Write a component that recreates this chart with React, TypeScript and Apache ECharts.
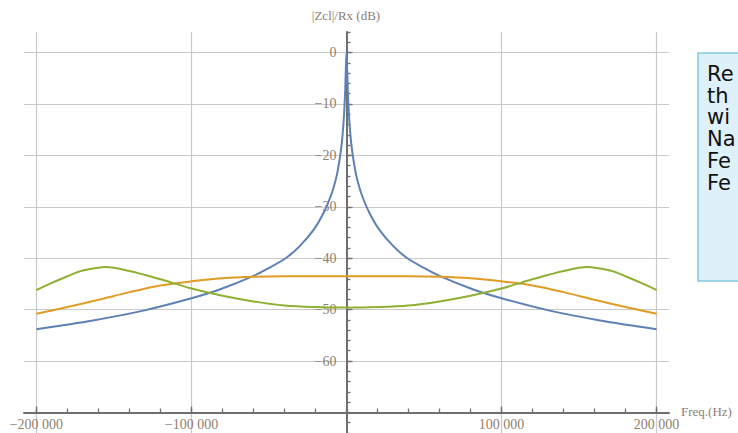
import React, { useEffect, useRef } from "react";
import * as echarts from "echarts";

// ---- Data ----
const BLUE_FREQ = [
  -200000, -163500, -131000, -100000, -81800, -60300, -50000, -38800, -30000, -21000,
  -14500, -10000, -8000, -6000, -4200, -3000, -2000, -1200, -800, -400, 0,
  400, 800, 1200, 2000, 3000, 4200, 6000, 8000, 10000, 14500, 21000, 30000, 38800,
  50000, 60300, 81800, 100000, 131000, 163500, 200000,
];
const BLUE_DB = [
  -53.8, -52.1, -50.2, -47.8, -46.1, -43.5, -41.9, -39.9, -37.6, -34.4,
  -31.0, -27.8, -25.9, -23.5, -20.3, -17.5, -14.0, -9.9, -7.0, -3.0, 0,
  -3.0, -7.0, -9.9, -14.0, -17.5, -20.3, -23.5, -25.9, -27.8, -31.0, -34.4, -37.6, -39.9,
  -41.9, -43.5, -46.1, -47.8, -50.2, -52.1, -53.8,
];

const ORANGE_FREQ = [
  -200000, -180000, -160000, -140000, -120000, -100000, -80000, -60000, -40000, -20000, 0,
  20000, 40000, 60000, 80000, 100000, 120000, 140000, 160000, 180000, 200000,
];
const ORANGE_DB = [
  -50.8, -49.5, -48.1, -46.6, -45.3, -44.5, -43.9, -43.6, -43.5, -43.5, -43.5,
  -43.5, -43.5, -43.6, -43.9, -44.5, -45.3, -46.6, -48.1, -49.5, -50.8,
];

const GREEN_FREQ = [
  -200000, -190000, -180000, -170000, -155000, -140000, -120000, -110000,
  -100000, -80000, -60000, -40000, -20000, 0, 20000, 40000, 60000, 80000, 100000, 110000,
  120000, 140000, 155000, 170000, 180000, 190000, 200000,
];
const GREEN_DB = [
  -46.2, -44.8, -43.5, -42.4, -41.7, -42.5, -44.1, -45.0,
  -45.9, -47.3, -48.4, -49.2, -49.5, -49.6, -49.5, -49.2, -48.4, -47.3, -45.9, -45.0,
  -44.1, -42.5, -41.7, -42.4, -43.5, -44.8, -46.2,
];

const X_TICKS = [-200000, -100000, 100000, 200000];
const X_TICK_LABELS = ["\u2212200 000", "\u2212100 000", "100 000", "200 000"];
const Y_TICKS = [0, -10, -20, -30, -40, -50, -60];
const Y_TICK_LABELS = ["0", "\u221210", "\u221220", "\u221230", "\u221240", "\u221250", "\u221260"];

const X_MINOR: number[] = [];
for (let v = -200000; v <= 200000; v += 20000) X_MINOR.push(v);
const Y_MINOR: number[] = [];
for (let v = -74; v <= 4; v += 2) Y_MINOR.push(v);

const SERIES_NAMES = ["|Zcl|/Rx", "Series 2", "Series 3"];
const COLORS = ["#5e81b5", "#e19c24", "#8fb032"];
const BOX_LINES = ["Re", "th", "wi", "Na", "Fe", "Fe"];

const zip = (xs: number[], ys: number[]) => xs.map((x, i) => [x, ys[i]]);

const GRID_LEFT = 24;
const GRID_WIDTH = 645;
const X_MIN = -208000;
const X_MAX = 208000;

export default function App() {
  const ref = useRef<HTMLDivElement>(null);

  useEffect(() => {
    if (!ref.current) return;
    const chart = echarts.init(ref.current, undefined, { renderer: "svg" });
    const axisColor = "#6f6f6f";
    const gridColor = "#c9c9c9";
    const labelColor = "#8f8070";
    const serif = '"Liberation Serif", "DejaVu Serif", serif';
    // pixel distance from the grid's left edge to x = 0
    const yAxisOffset = -((0 - X_MIN) / (X_MAX - X_MIN)) * GRID_WIDTH;

    const xLabelFmt = (v: number) => {
      const i = X_TICKS.indexOf(v);
      return i >= 0 ? X_TICK_LABELS[i] : "";
    };
    const yLabelFmt = (v: number) => {
      const i = Y_TICKS.indexOf(v);
      return i >= 0 ? Y_TICK_LABELS[i] : "";
    };

    const boxTexts = BOX_LINES.map((t, i) => ({
      type: "text",
      x: 707,
      y: 74 + i * 21.7,
      style: {
        text: t,
        font: '21px "DejaVu Sans", sans-serif',
        fill: "#111111",
        textAlign: "left",
        textVerticalAlign: "middle",
      },
    }));

    chart.setOption({
      animation: false,
      backgroundColor: "#ffffff",
      grid: {
        left: GRID_LEFT,
        width: GRID_WIDTH,
        top: 32,
        bottom: 0,
        containLabel: false,
        outerBoundsMode: "none",
      },
      xAxis: [
        {
          type: "value",
          min: X_MIN,
          max: X_MAX,
          position: "bottom",
          offset: -20.5,
          axisLine: { onZero: false, show: true, lineStyle: { color: axisColor, width: 2 } },
          axisTick: { show: true, inside: true, length: 6, customValues: X_TICKS, lineStyle: { color: axisColor, width: 1.3 } },
          axisLabel: {
            show: true,
            customValues: X_TICKS,
            formatter: xLabelFmt,
            color: labelColor,
            fontFamily: serif,
            fontSize: 14,
            margin: 5,
          },
          splitLine: { show: true, lineStyle: { color: gridColor, width: 1.2 } },
        },
        {
          type: "value",
          min: X_MIN,
          max: X_MAX,
          position: "bottom",
          offset: -20.5,
          axisLine: { onZero: false, show: false },
          axisTick: { show: true, inside: true, length: 4, customValues: X_MINOR, lineStyle: { color: axisColor, width: 1.3 } },
          axisLabel: { show: false },
          splitLine: { show: false },
        },
      ],
      yAxis: [
        {
          type: "value",
          min: -74,
          max: 4,
          position: "left",
          offset: yAxisOffset,
          axisLine: { onZero: false, show: true, lineStyle: { color: axisColor, width: 2 } },
          axisTick: { show: true, inside: true, length: 6, customValues: Y_TICKS, lineStyle: { color: axisColor, width: 1.3 } },
          axisLabel: {
            show: true,
            customValues: Y_TICKS,
            formatter: yLabelFmt,
            color: labelColor,
            fontFamily: serif,
            fontSize: 14,
            margin: 10,
          },
          splitLine: { show: true, lineStyle: { color: gridColor, width: 1.2 } },
        },
        {
          type: "value",
          min: -74,
          max: 4,
          position: "left",
          offset: yAxisOffset,
          axisLine: { onZero: false, show: false },
          axisTick: { show: true, inside: true, length: 4, customValues: Y_MINOR, lineStyle: { color: axisColor, width: 1.3 } },
          axisLabel: { show: false },
          splitLine: { show: false },
        },
      ],
      series: [
        { name: SERIES_NAMES[0], data: zip(BLUE_FREQ, BLUE_DB), color: COLORS[0] },
        { name: SERIES_NAMES[1], data: zip(ORANGE_FREQ, ORANGE_DB), color: COLORS[1] },
        { name: SERIES_NAMES[2], data: zip(GREEN_FREQ, GREEN_DB), color: COLORS[2] },
      ].map((s) => ({
        type: "line",
        name: s.name,
        xAxisIndex: 0,
        yAxisIndex: 0,
        data: s.data,
        showSymbol: false,
        smooth: 0.3,
        lineStyle: { color: s.color, width: 2 },
        itemStyle: { color: s.color },
      })),
      graphic: [
        {
          type: "text",
          x: 346,
          y: 15,
          style: {
            text: "|Zcl|/Rx (dB)",
            font: `13px ${serif}`,
            fill: "#8a8078",
            textAlign: "center",
            textVerticalAlign: "middle",
          },
        },
        {
          type: "text",
          x: 681,
          y: 411,
          style: {
            text: "Freq.(Hz)",
            font: `13px ${serif}`,
            fill: "#8a8078",
            textAlign: "left",
            textVerticalAlign: "middle",
          },
        },
        {
          type: "rect",
          shape: { x: 698, y: 53, width: 60, height: 228 },
          style: { fill: "#def0f8", stroke: "#86c8e3", lineWidth: 1.5 },
        },
        ...boxTexts,
      ],
    });
    return () => chart.dispose();
  }, []);

  return (
    <div
      ref={ref}
      style={{ position: "fixed", left: 0, top: 0, width: 738, height: 433, background: "#fff" }}
    />
  );
}
